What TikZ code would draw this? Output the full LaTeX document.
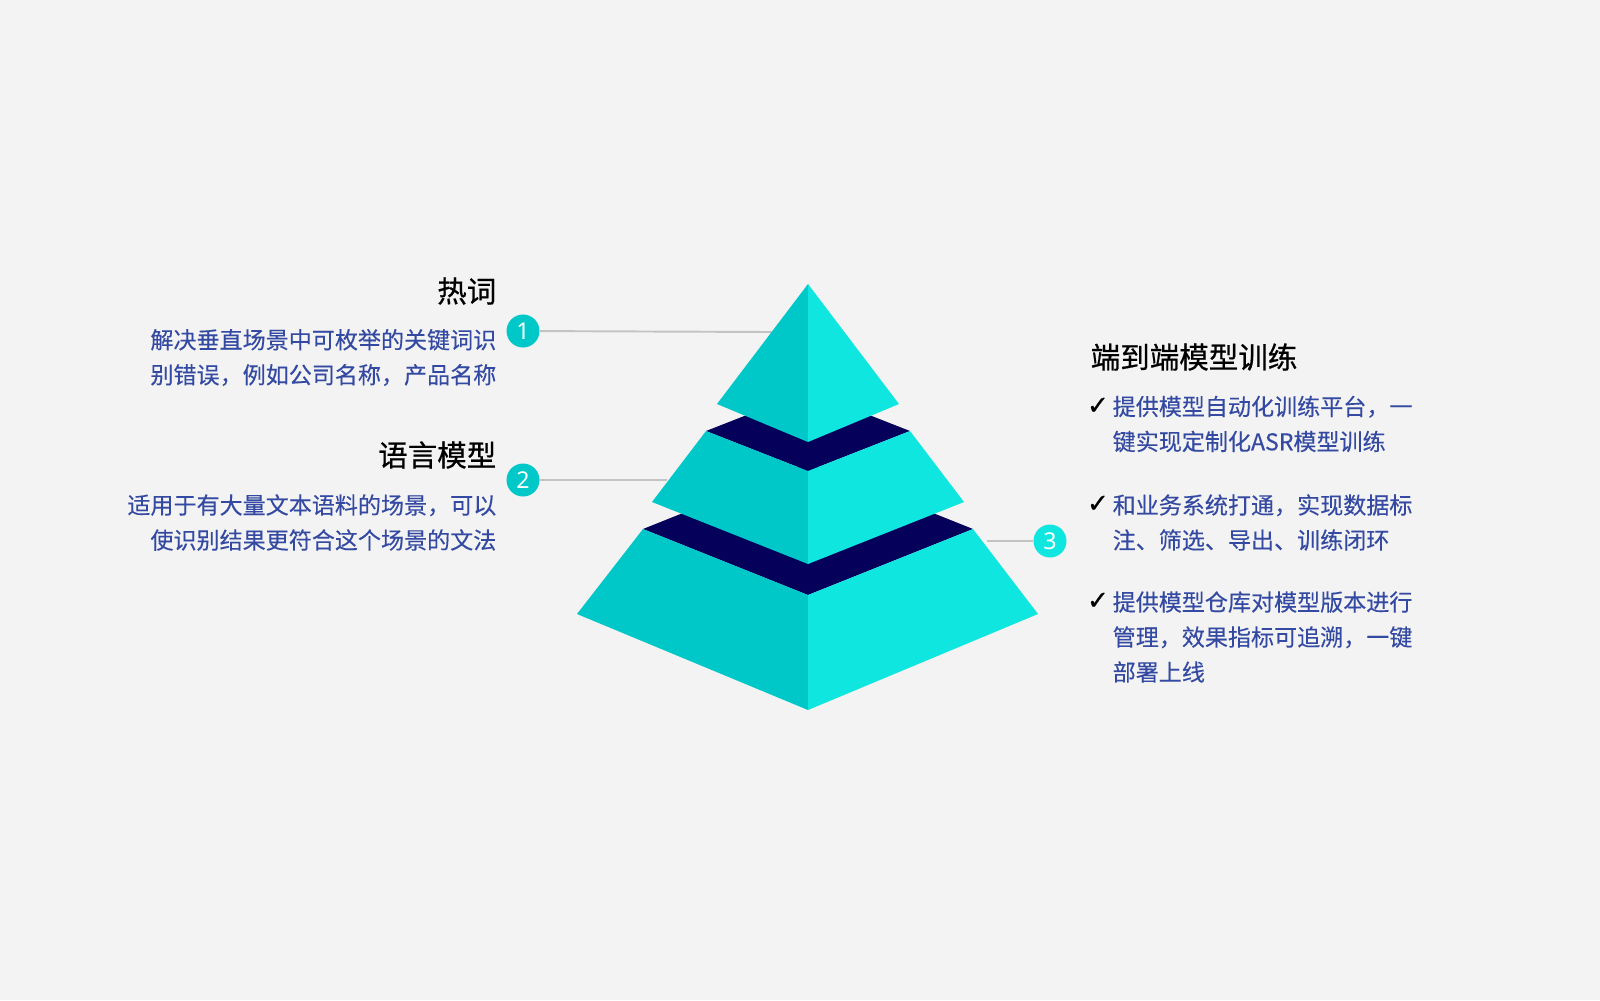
\documentclass[tikz,border=0pt]{standalone}
\usepackage{fontspec}
\setmainfont{Noto Sans}
\newfontfamily\cjk[FakeBold=0.25]{Noto Sans CJK SC}
\newfontfamily\cjkhead[FakeBold=0.6]{Noto Sans CJK SC}
\newfontfamily\symb[FakeBold=0.8]{DejaVu Sans}
\usepackage{xcolor}
\definecolor{pyrleft}{RGB}{0,200,200}
\definecolor{pyrright}{RGB}{16,230,224}
\definecolor{pyrband}{RGB}{5,0,90}
\definecolor{bodyblue}{RGB}{52,74,162}
\definecolor{leadgray}{RGB}{195,195,195}
\definecolor{bggray}{RGB}{243,243,243}
\usetikzlibrary{positioning}
\tikzset{
  title/.style   ={inner sep=0pt,font=\cjkhead\fontsize{8.4pt}{10pt}\selectfont,text=black},
  body/.style    ={inner sep=0pt,font=\cjk\fontsize{6.56pt}{9.96pt}\selectfont,text=bodyblue},
  badge/.style   ={circle,minimum size=3.3mm,inner sep=0pt,text=white,
                   font=\fontsize{6.6pt}{7pt}\selectfont},
  tick/.style    ={inner sep=0pt,font=\symb\fontsize{7.4pt}{8pt}\selectfont,text=black},
  leader/.style  ={draw=leadgray,line width=0.55pt},
}

\begin{document}
\begin{tikzpicture}[x=0.1mm,y=-0.1mm]
  \useasboundingbox[fill=bggray] (0,0) rectangle (1600,1000);

  % ---- leader lines -------------------------------------------------
  \coordinate (e1) at (772,332);
  \coordinate (e2) at (667,480);
  \coordinate (e3) at (987,541);
  \node[badge,fill=pyrleft] (c1) at (523,331) {1};
  \node[badge,fill=pyrleft] (c2) at (523,480) {2};
  \node[badge,fill=pyrright] (c3) at (1050,541) {3};
  \draw[leader] (c1) -- (e1);
  \draw[leader] (c2) -- (e2);
  \draw[leader] (e3) -- (c3);

  % ---- pyramid ------------------------------------------------------
  % bottom tier
  \fill[pyrband] (643,529) -- (808,463) -- (973,529) -- (808,595) -- cycle;
  \fill[pyrleft] (643,529) -- (808,595) -- (808,710) -- (577,614) -- cycle;
  \fill[pyrright] (973,529) -- (808,595) -- (808,710) -- (1038,614) -- cycle;
  % middle tier
  \fill[pyrband] (706,431) -- (808,391) -- (910,431) -- (808,471) -- cycle;
  \fill[pyrleft] (706,431) -- (808,471) -- (808,564) -- (652,502) -- cycle;
  \fill[pyrright] (910,431) -- (808,471) -- (808,564) -- (964,502) -- cycle;
  % top tier
  \fill[pyrleft] (808,284) -- (808,442) -- (717,404) -- cycle;
  \fill[pyrright] (808,284) -- (808,442) -- (899,404) -- cycle;

  % ---- left texts ---------------------------------------------------
  \node[title,anchor=east] (t1) at (497,291) {热词};
  \node[body,anchor=east,align=right] (b1) at (497,357.5)
    {解决垂直场景中可枚举的关键词识\\别错误，例如公司名称，产品名称};
  \node[title,anchor=east] (t2) at (497,455) {语言模型};
  \node[body,anchor=east,align=right] (b2) at (497,522.5)
    {适用于有大量文本语料的场景，可以\\使识别结果更符合这个场景的文法};

  % ---- right texts --------------------------------------------------
  \node[title,anchor=west] (t3) at (1090,357) {端到端模型训练};
  \node[tick] (k1) at (1098,406) {✓};
  \node[body,anchor=west,align=left] (r1) at (1112,424)
    {提供模型自动化训练平台，一\\键实现定制化ASR模型训练};
  \node[tick] (k2) at (1098,504) {✓};
  \node[body,anchor=west,align=left] (r2) at (1112,522.5)
    {和业务系统打通，实现数据标\\注、筛选、导出、训练闭环};
  \node[tick] (k3) at (1098,601) {✓};
  \node[body,anchor=west,align=left] (r3) at (1112,637)
    {提供模型仓库对模型版本进行\\管理，效果指标可追溯，一键\\部署上线};
\end{tikzpicture}
\end{document}
